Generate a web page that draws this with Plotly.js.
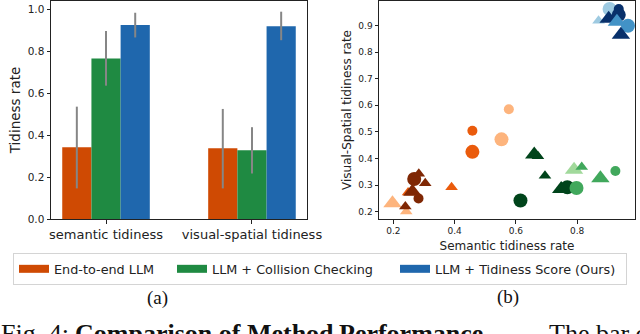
<!DOCTYPE html>
<html><head><meta charset="utf-8">
<script src="https://cdn.plot.ly/plotly-3.0.1.min.js"></script>
<style>html,body{margin:0;padding:0;background:#fff}#chart{width:640px;height:334px}</style>
</head><body><div id="chart"></div>
<script>
// ---------- data: bar chart (a) ----------
const categories = ['semantic tidiness', 'visual-spatial tidiness'];
const methods = ['End-to-end LLM', 'LLM + Collision Checking', 'LLM + Tidiness Score (Ours)'];
const e2eMean = [0.342, 0.337];
const e2eLow  = [0.146, 0.146];
const e2eHigh = [0.536, 0.525];
const ccMean  = [0.766, 0.328];
const ccLow   = [0.636, 0.217];
const ccHigh  = [0.897, 0.438];
const tsMean  = [0.926, 0.919];
const tsLow   = [0.866, 0.853];
const tsHigh  = [0.984, 0.989];

// ---------- data: scatter (b) ----------
// shade: 0 light, 1 mid, 2 dark ; shape: c circle, t triangle ; big: 0 small, 1 large
const e2eSem   = [0.577, 0.553, 0.458, 0.458, 0.390, 0.197, 0.242, 0.239, 0.248, 0.262, 0.268, 0.283, 0.304, 0.282];
const e2eVis   = [0.585, 0.472, 0.504, 0.425, 0.292, 0.232, 0.201, 0.220, 0.272, 0.275, 0.323, 0.343, 0.307, 0.250];
const e2eShade = [0, 0, 1, 1, 1, 0, 0, 2, 1, 2, 2, 2, 2, 2];
const e2eShape = ['c','c','c','c','t','t','t','t','t','t','c','t','t','c'];
const e2eBig   = [0, 1, 0, 1, 0, 1, 0, 0, 0, 1, 1, 0, 0, 0];

const ccSem   = [0.615, 0.660, 0.672, 0.695, 0.748, 0.768, 0.798, 0.790, 0.815, 0.876, 0.925];
const ccVis   = [0.242, 0.415, 0.408, 0.335, 0.285, 0.292, 0.289, 0.358, 0.368, 0.326, 0.353];
const ccShade = [2, 2, 2, 2, 2, 2, 1, 0, 1, 1, 1];
const ccShape = ['c','t','t','t','t','c','c','t','t','t','c'];
const ccBig   = [1, 1, 0, 0, 1, 1, 1, 1, 0, 1, 0];

const tsSem   = [0.870, 0.906, 0.903, 0.936, 0.936, 0.930, 0.966, 0.943];
const tsVis   = [0.918, 0.962, 0.925, 0.962, 0.940, 0.914, 0.899, 0.865];
const tsShade = [0, 0, 2, 2, 2, 1, 1, 2];
const tsShape = ['t','c','t','c','c','t','c','t'];
const tsBig   = [0, 1, 1, 0, 1, 1, 1, 1];

// ---------- styles ----------
const barColors = ['#cf4a03', '#1f8a42', '#1f67ad'];
const shadePal = [
  ['#fdb47d', '#ea5b0c', '#7f2704'],
  ['#a1d99b', '#41a85c', '#00441b'],
  ['#9ecae1', '#4292c6', '#08306b']
];
const FONT = 'DejaVu Sans, sans-serif';
const SERIF = 'Liberation Serif, serif';
const TXT = '#222';

function barTrace(mean, low, high, i) {
  return {
    type: 'bar', x: categories, y: mean, name: methods[i], showlegend: false,
    marker: {color: barColors[i], line: {width: 0}},
    error_y: {type: 'data', symmetric: false,
      array: high.map((h, k) => h - mean[k]),
      arrayminus: low.map((l, k) => mean[k] - l),
      color: '#868686', thickness: 2, width: 0},
    xaxis: 'x', yaxis: 'y', hoverinfo: 'skip'
  };
}
function scatterTrace(xs, ys, shade, shape, big, m) {
  return {
    type: 'scatter', mode: 'markers', x: xs, y: ys, showlegend: false,
    marker: {
      color: shade.map(s => shadePal[m][s]),
      symbol: shape.map(s => s === 'c' ? 'circle' : 'triangle-up'),
      size: shape.map((s, k) => s === 'c' ? (big[k] ? 14 : 10) : (big[k] ? 16 : 11)),
      line: {width: 0}, opacity: 1
    },
    xaxis: 'x2', yaxis: 'y2', hoverinfo: 'skip'
  };
}
const legendWidths = [113, 178, 186];
const legendDummies = methods.map((name, i) => ({
  type: 'scatter', mode: 'lines', x: [null], y: [null], name: name,
  line: {color: barColors[i], width: 8}, legendwidth: legendWidths[i],
  xaxis: 'x2', yaxis: 'y2', hoverinfo: 'skip'
}));

const data = [
  barTrace(e2eMean, e2eLow, e2eHigh, 0),
  barTrace(ccMean, ccLow, ccHigh, 1),
  barTrace(tsMean, tsLow, tsHigh, 2),
  scatterTrace(e2eSem, e2eVis, e2eShade, e2eShape, e2eBig, 0),
  scatterTrace(ccSem, ccVis, ccShade, ccShape, ccBig, 1),
  scatterTrace(tsSem, tsVis, tsShade, tsShape, tsBig, 2),
  ...legendDummies
];

const H = 334, W = 640;
const axBase = {showline: true, linecolor: '#222', linewidth: 1, mirror: true,
  ticks: 'outside', ticklen: 3.5, tickwidth: 1, tickcolor: '#222',
  showgrid: false, zeroline: false, fixedrange: true, automargin: false};
function capText(t, x, y) {
  return {text: t, xref: 'paper', yref: 'paper', x: x / W, y: 1 - y / H, showarrow: false,
    xanchor: 'left', yanchor: 'top', font: {family: SERIF, size: 26, color: '#111'}};
}
const layout = {
  width: W, height: H, margin: {l: 0, r: 0, t: 0, b: 0},
  paper_bgcolor: '#fff', plot_bgcolor: '#fff',
  font: {family: FONT, color: TXT},
  barmode: 'group', bargap: 0.4, bargroupgap: 0,
  xaxis: Object.assign({}, axBase, {domain: [51/W, 307/W], anchor: 'y', type: 'category',
    range: [-0.377, 1.377], tickfont: {size: 13, family: FONT, color: TXT}}),
  yaxis: Object.assign({}, axBase, {domain: [1 - 219/H, 1 - 1/H], anchor: 'x',
    range: [0, 1.04], tickvals: [0, 0.2, 0.4, 0.6, 0.8, 1.0], tickformat: '.1f',
    tickfont: {size: 10.5, family: FONT, color: TXT},
    title: {text: 'Tidiness rate', font: {size: 13.5, family: FONT, color: TXT}, standoff: 3}}),
  xaxis2: Object.assign({}, axBase, {domain: [379/W, 635/W], anchor: 'y2',
    range: [0.153, 0.989], tickvals: [0.2, 0.4, 0.6, 0.8], tickformat: '.1f',
    tickfont: {size: 9, family: FONT, color: TXT},
    title: {text: 'Semantic tidiness rate', font: {size: 12, family: FONT, color: TXT}, standoff: 6}}),
  yaxis2: Object.assign({}, axBase, {domain: [1 - 219/H, 1 - 1/H], anchor: 'x2',
    range: [0.1726, 0.992], tickvals: [0.2, 0.3, 0.4, 0.5, 0.6, 0.7, 0.8, 0.9], tickformat: '.1f',
    tickfont: {size: 9, family: FONT, color: TXT},
    title: {text: 'Visual-Spatial tidiness rate', font: {size: 12, family: FONT, color: TXT}, standoff: 4}}),
  showlegend: true,
  legend: {orientation: 'h', x: 13/W, xanchor: 'left', y: 1 - 253/H, yanchor: 'top',
    bordercolor: '#d4d4d4', borderwidth: 1, bgcolor: '#fff',
    font: {size: 12.8, family: FONT, color: TXT}, itemwidth: 30, tracegroupgap: 0},
  annotations: [
    {text: '(a)', xref: 'paper', yref: 'paper', x: 157/W, y: 1 - 298/H, showarrow: false,
      xanchor: 'center', yanchor: 'middle', font: {family: SERIF, size: 19, color: '#111'}},
    {text: '(b)', xref: 'paper', yref: 'paper', x: 508/W, y: 1 - 297/H, showarrow: false,
      xanchor: 'center', yanchor: 'middle', font: {family: SERIF, size: 19, color: '#111'}},
    capText('Fig. 4:', -1, 317),
    capText('<b>Comparison of Method</b>', 73, 317),
    capText('<b>Performance.</b>', 337, 317),
    capText('The bar chart', 547, 317)
  ]
};
Plotly.newPlot('chart', data, layout, {displayModeBar: false, staticPlot: true});
</script></body></html>
